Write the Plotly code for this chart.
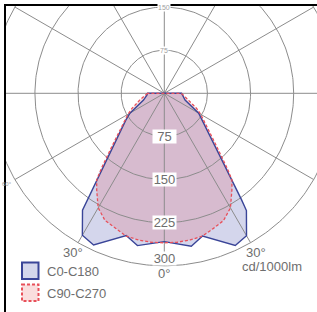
import numpy as np
import plotly.graph_objects as go

# ---------------- data (cd/1000lm, angle from nadir in degrees) ----------------
c0_angles = [0, 10, 15, 25, 30, 35, 36, 55, 60, 72, 85, 90]
c0_values = [258, 270, 257, 292, 286, 249, 228, 81, 69, 38, 31, 30]
c180_angles = [0, 10, 15, 25, 30, 35, 36, 55, 60, 72, 85, 90]
c180_values = [258, 269, 256, 291, 285, 248, 229, 82, 69, 38, 30, 30]

c90_angles = [0, 5, 10, 15, 20, 25, 30, 35, 38, 40, 45, 50, 55, 60, 65, 70, 75, 80, 85, 90]
c90_values = [260, 260, 259, 257, 250, 244, 230, 205, 191, 170, 127, 102, 85, 73, 62, 51, 44, 38, 33, 29]
c270_angles = c90_angles
c270_values = c90_values

ring_values = [75, 150, 225, 300]
ring_labels = ["75", "150", "225", "300"]
spoke_angles = list(range(0, 360, 30))
deg_labels = [(-30, "30°"), (30, "30°")]
small_deg_labels = [(-60, "60°"), (60, "60°")]
unit_label = "cd/1000lm"
series_names = ["C0-C180", "C90-C270"]

# ---------------- geometry / style ----------------
W, H = 317, 312
L, T = 6, 6              # plot area offset (px)
CX, CY = 164.3, 93.3     # pole position (px)
S = 0.575                # px per cd

def px(xp, yp):
    return (xp - CX) / S, (CY - yp) / S

def polar_xy(angles, values):
    a = np.radians(np.asarray(angles, dtype=float))
    r = np.asarray(values, dtype=float)
    return r * np.sin(a), -r * np.cos(a)

def half_to_full(left_ang, left_val, right_ang, right_val):
    ang = [-a for a in reversed(left_ang)] + list(right_ang[1:])
    val = list(reversed(left_val)) + list(right_val[1:])
    return ang, val

blue_line = "#3a4598"
blue_fill = "rgba(60,70,170,0.22)"
red_line = "#e8505a"
red_fill = "rgba(230,70,80,0.185)"
grid_col = "#8c8c8c"
txt_col = "#6e6e6e"
FONT = "Liberation Sans, Arial, Helvetica, sans-serif"

bx, by = polar_xy(*half_to_full(c180_angles, c180_values, c0_angles, c0_values))
rx, ry = polar_xy(*half_to_full(c270_angles, c270_values, c90_angles, c90_values))

fig = go.Figure()

# fills
fig.add_trace(go.Scatter(x=bx, y=by, fill="toself", fillcolor=blue_fill,
                         line=dict(width=0), mode="lines", hoverinfo="skip",
                         showlegend=False))
fig.add_trace(go.Scatter(x=rx, y=ry, fill="toself", fillcolor=red_fill,
                         line=dict(width=0), mode="lines", hoverinfo="skip",
                         showlegend=False))

# grid rings
t = np.linspace(0, 2 * np.pi, 361)
for rv in ring_values:
    fig.add_trace(go.Scatter(x=rv * np.cos(t), y=rv * np.sin(t), mode="lines",
                             line=dict(color=grid_col, width=1), hoverinfo="skip",
                             showlegend=False))
# spokes
rmax = max(ring_values)
for a in spoke_angles:
    sx, sy = polar_xy([a, a], [0, rmax])
    fig.add_trace(go.Scatter(x=sx, y=sy, mode="lines",
                             line=dict(color=grid_col, width=1), hoverinfo="skip",
                             showlegend=False))

# outlines
fig.add_trace(go.Scatter(x=np.append(bx, bx[0]), y=np.append(by, by[0]), mode="lines",
                         line=dict(color=blue_line, width=1.4), name=series_names[0],
                         showlegend=False))
fig.add_trace(go.Scatter(x=np.append(rx, rx[0]), y=np.append(ry, ry[0]), mode="lines",
                         line=dict(color=red_line, width=1.3, dash="3px,2px"),
                         name=series_names[1], showlegend=False))

ann = []
# ring labels below the pole
for rv, lab in zip(ring_values, ring_labels):
    shift = 7 if rv == rmax else 0
    ann.append(dict(x=0, y=-rv, text=lab, showarrow=False, yshift=shift,
                    font=dict(family=FONT, size=13, color=txt_col),
                    bgcolor="white", width=23, height=13, borderpad=0))
# tiny ring labels above the pole
for rv, lab in zip(ring_values[:2], ring_labels[:2]):
    ann.append(dict(x=0, y=rv, text=lab, showarrow=False,
                    font=dict(family=FONT, size=7, color="#a0a0a0"),
                    bgcolor="white", borderpad=0))
# angle labels
RL = 319
for a, lab in deg_labels:
    lx, ly = polar_xy([a], [RL])
    ann.append(dict(x=lx[0], y=ly[0], text=lab, showarrow=False,
                    font=dict(family=FONT, size=13, color=txt_col)))
for a, lab in small_deg_labels:
    lx, ly = polar_xy([a], [RL - 4])
    ann.append(dict(x=lx[0], y=ly[0], text=lab, showarrow=False,
                    font=dict(family=FONT, size=6, color="#a0a0a0")))
ann.append(dict(x=0, y=-rmax, text="0°", showarrow=False, yshift=-8,
                font=dict(family=FONT, size=13, color=txt_col)))
ux, uy = px(271.5, 266.5)
ann.append(dict(x=ux, y=uy, text=unit_label, showarrow=False,
                font=dict(family=FONT, size=13, color=txt_col)))

# custom legend
shapes = []
leg = [(262.5, "rgba(213,215,236,1)", blue_line, "solid", series_names[0]),
       (284.5, "rgba(250,222,222,1)", red_line, "3px,2px", series_names[1])]
for top, fc, lc, dash, name in leg:
    x0, y0 = px(22, top)
    x1, y1 = px(38.5, top + 16.5)
    shapes.append(dict(type="rect", x0=x0, x1=x1, y0=y0, y1=y1, xref="x", yref="y",
                       fillcolor=fc, line=dict(color=lc, width=2, dash=dash)))
    tx, ty = px(45, top + 8.5)
    ann.append(dict(x=tx, y=ty, text=name, showarrow=False, xanchor="left",
                    font=dict(family=FONT, size=13, color=txt_col)))

x_lo, y_hi = px(L, T)
x_hi, y_lo = px(W, H)

fig.update_layout(
    width=W, height=H,
    margin=dict(l=L, t=T, r=0, b=0, pad=0),
    paper_bgcolor="white", plot_bgcolor="white",
    xaxis=dict(range=[x_lo, x_hi], showgrid=False, zeroline=False, showticklabels=False,
               ticks="", showline=True, linecolor="black", linewidth=2, side="top",
               fixedrange=True),
    yaxis=dict(range=[y_lo, y_hi], showgrid=False, zeroline=False, showticklabels=False,
               ticks="", showline=True, linecolor="black", linewidth=2, fixedrange=True),
    annotations=ann, shapes=shapes, showlegend=False,
)

fig.write_html("out.html", config={"displayModeBar": False, "staticPlot": True},
               post_script="document.body.style.margin='0';document.body.style.padding='0';")
